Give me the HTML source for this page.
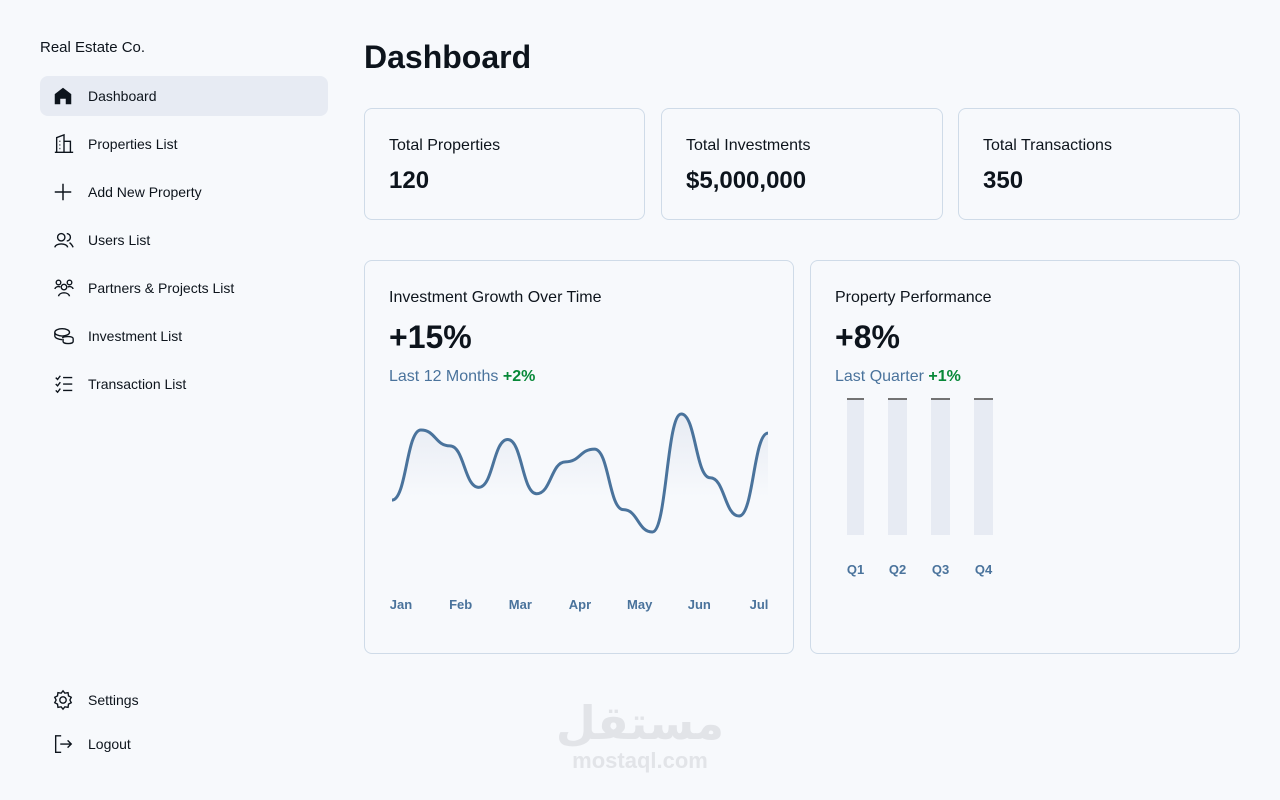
<!DOCTYPE html>
<html>
<head>
<meta charset="utf-8">
<style>
*{box-sizing:border-box;margin:0;padding:0}
html,body{width:1280px;height:800px;overflow:hidden;background:#f7f9fc;font-family:"Liberation Sans",sans-serif;color:#0d141c}
.side{position:absolute;left:40px;top:0;width:288px;height:800px}
.brand{position:absolute;top:39px;left:0;font-size:15px}
.nav{position:absolute;left:0;width:288px;height:40px;border-radius:8px;display:flex;align-items:center;font-size:14px}
.nav.active{background:#e7ebf3}
.nav svg{position:absolute;left:12px;top:9px}
.nav span{position:absolute;left:48px}
h1{position:absolute;left:364px;top:39px;font-size:32px;font-weight:bold}
.card{position:absolute;border:1px solid #cfdbe8;border-radius:8px;background:#f7f9fc}
.stat .l{position:absolute;left:24px;top:28px;font-size:16px}
.stat .v{position:absolute;left:24px;top:58px;font-size:24px;font-weight:bold}
.ct{position:absolute;left:24px;top:28px;font-size:16px}
.cv{position:absolute;left:24px;top:58px;font-size:32px;font-weight:bold}
.cs{position:absolute;left:24px;top:107px;font-size:16px;color:#4a739c}
.cs b{color:#078838}
.ax{font-size:13px;font-weight:bold;fill:#4a739c;font-family:"Liberation Sans",sans-serif}
.wm{position:absolute;left:540px;top:700px;width:200px;color:#e2e4e8;font-weight:bold;text-align:center;line-height:1}
.wm .ar{font-size:46px;font-family:"Liberation Sans","DejaVu Sans",sans-serif}
.wm .en{font-size:22px;margin-top:4px}
</style>
</head>
<body>
<div class="side">
  <div class="brand">Real Estate Co.</div>
  <div class="nav active" style="top:76px">
    <svg width="22" height="22" viewBox="0 0 24 24"><path d="M3 10L12 3L21 10V21H15V15H9V21H3Z" fill="#0d141c"/></svg><span>Dashboard</span></div>
  <div class="nav" style="top:124px">
    <svg width="24" height="22" viewBox="0 0 24 24" fill="none" stroke="#0d141c" stroke-width="1.5"><path d="M2 21H22M4 21V5L12 2V21M12 9H19V21M7 9H8M7 13H8M7 17H8"/></svg><span>Properties List</span></div>
  <div class="nav" style="top:172px">
    <svg width="22" height="22" viewBox="0 0 24 24" stroke="#0d141c" stroke-width="1.6"><path d="M12 3V21M3 12H21"/></svg><span>Add New Property</span></div>
  <div class="nav" style="top:220px">
    <svg width="24" height="22" viewBox="0 0 24 24" fill="none" stroke="#0d141c" stroke-width="1.5"><circle cx="9" cy="9" r="4"/><path d="M2 20C3 15 15 15 16 20M15 5A4 4 0 0 1 15 13M18 15C20 16 21 18 22 20"/></svg><span>Users List</span></div>
  <div class="nav" style="top:268px">
    <svg width="24" height="22" viewBox="0 0 24 24" fill="none" stroke="#0d141c" stroke-width="1.5"><circle cx="12" cy="11" r="3"/><circle cx="6" cy="6" r="2.5"/><circle cx="18" cy="6" r="2.5"/><path d="M6 21C7 16 17 16 18 21M2 13C3 10 7 10 8 11M22 13C21 10 17 10 16 11"/></svg><span>Partners &amp; Projects List</span></div>
  <div class="nav" style="top:316px">
    <svg width="24" height="22" viewBox="0 0 24 24" fill="none" stroke="#0d141c" stroke-width="1.5"><ellipse cx="10" cy="8" rx="8" ry="4"/><path d="M2 8V12C2 14 6 16 10 16M10 14C13 12 22 12 22 15V18C22 21 11 21 11 18V15"/></svg><span>Investment List</span></div>
  <div class="nav" style="top:364px">
    <svg width="24" height="22" viewBox="0 0 24 24" fill="none" stroke="#0d141c" stroke-width="1.5"><path d="M3 5L5 7L8 3M3 12L5 14L8 10M3 19L5 21L8 17M11 5H21M11 12H21M11 19H21"/></svg><span>Transaction List</span></div>
  <div class="nav" style="top:680px">
    <svg width="22" height="22" viewBox="0 0 24 24" fill="none" stroke="#0d141c" stroke-width="1.5"><circle cx="12" cy="12" r="3.5"/><path d="M12 2L14 4.5L17.5 4L18 7.5L21 9L19.5 12L21 15L18 16.5L17.5 20L14 19.5L12 22L10 19.5L6.5 20L6 16.5L3 15L4.5 12L3 9L6 7.5L6.5 4L10 4.5Z"/></svg><span>Settings</span></div>
  <div class="nav" style="top:724px">
    <svg width="22" height="22" viewBox="0 0 24 24" fill="none" stroke="#0d141c" stroke-width="1.5"><path d="M10 3H4V21H10M9 12H21M17 8L21 12L17 16"/></svg><span>Logout</span></div>
</div>

<h1>Dashboard</h1>

<div class="card stat" style="left:364px;top:108px;width:281px;height:112px">
  <div class="l">Total Properties</div><div class="v">120</div></div>
<div class="card stat" style="left:661px;top:108px;width:282px;height:112px">
  <div class="l">Total Investments</div><div class="v">$5,000,000</div></div>
<div class="card stat" style="left:958px;top:108px;width:282px;height:112px">
  <div class="l">Total Transactions</div><div class="v">350</div></div>

<div class="card" style="left:364px;top:260px;width:430px;height:394px">
  <div class="ct">Investment Growth Over Time</div>
  <div class="cv">+15%</div>
  <div class="cs">Last 12 Months <b>+2%</b></div>
  <svg id="lineChart" style="position:absolute;left:0;top:0" width="430" height="394"></svg>
</div>

<div class="card" style="left:810px;top:260px;width:430px;height:394px">
  <div class="ct">Property Performance</div>
  <div class="cv">+8%</div>
  <div class="cs">Last Quarter <b>+1%</b></div>
  <svg id="barChart" style="position:absolute;left:0;top:0" width="430" height="394"></svg>
</div>

<div class="wm"><div class="ar">مستقل</div><div class="en">mostaql.com</div></div>

<script>
const growthValues = [41, 129, 109, 57, 117, 49, 89, 105, 29, 1, 149, 69, 21, 125];
const monthLabels = ["Jan", "Feb", "Mar", "Apr", "May", "Jun", "Jul"];
const quarterLabels = ["Q1", "Q2", "Q3", "Q4"];
const quarterValues = [100, 100, 100, 100];

const NS = "http://www.w3.org/2000/svg";
function mk(tag, attrs, parent){const e=document.createElementNS(NS,tag);for(const k in attrs)e.setAttribute(k,attrs[k]);parent.appendChild(e);return e;}

(function(){
  const svg=document.getElementById('lineChart');
  const x0=27,x1=403,yTop=413-260,yBot=531-260,vMin=1,vMax=149;
  const xs=i=>x0+(x1-x0)*i/(growthValues.length-1);
  const ys=v=>yBot-(v-vMin)/(vMax-vMin)*(yBot-yTop);
  let d="M"+xs(0)+" "+ys(growthValues[0]);
  for(let i=1;i<growthValues.length;i++){
    const xa=xs(i-1),xb=xs(i),xm=(xa+xb)/2;
    d+=" C"+xm+" "+ys(growthValues[i-1])+" "+xm+" "+ys(growthValues[i])+" "+xb+" "+ys(growthValues[i]);
  }
  const defs=mk('defs',{},svg);
  const g=mk('linearGradient',{id:'lg',x1:0,y1:0,x2:0,y2:1},defs);
  mk('stop',{offset:'0','stop-color':'#e7ebf3'},g);
  mk('stop',{offset:'0.6','stop-color':'#e7ebf3','stop-opacity':'0'},g);
  const area=mk('path',{d:d+" L"+x1+" "+(yBot+20)+" L"+x0+" "+(yBot+20)+"Z",fill:'url(#lg)'},svg);
  
  
  const line=mk('path',{d:d,fill:'none',stroke:'#4a739c','stroke-width':3},svg);
  
  
  const lx0=36,lx1=394;
  monthLabels.forEach((m,i)=>{
    const t=mk('text',{x:lx0+(lx1-lx0)*i/(monthLabels.length-1),y:348,'text-anchor':'middle',class:'ax'},svg);
    t.textContent=m;
    
    
  });
})();

(function(){
  const svg=document.getElementById('barChart');
  const bars=[[36,17],[77,19],[120,19],[163,19]];
  const yBot=534-260,h=137,maxV=100;
  quarterValues.forEach((v,i)=>{
    const bx=bars[i][0],bw=bars[i][1];
    const bh=v/maxV*h;
    const r=mk('rect',{x:bx,y:yBot-bh,width:bw,height:bh,fill:'#e7ebf3'},svg);
    
    
    const c=mk('rect',{x:bx,y:yBot-bh,width:bw,height:2,fill:'#737373'},svg);
    
    
    const t=mk('text',{x:bx+bw/2,y:313,'text-anchor':'middle',class:'ax'},svg);
    t.textContent=quarterLabels[i];
    
    
  });
})();
</script>
</body>
</html>
